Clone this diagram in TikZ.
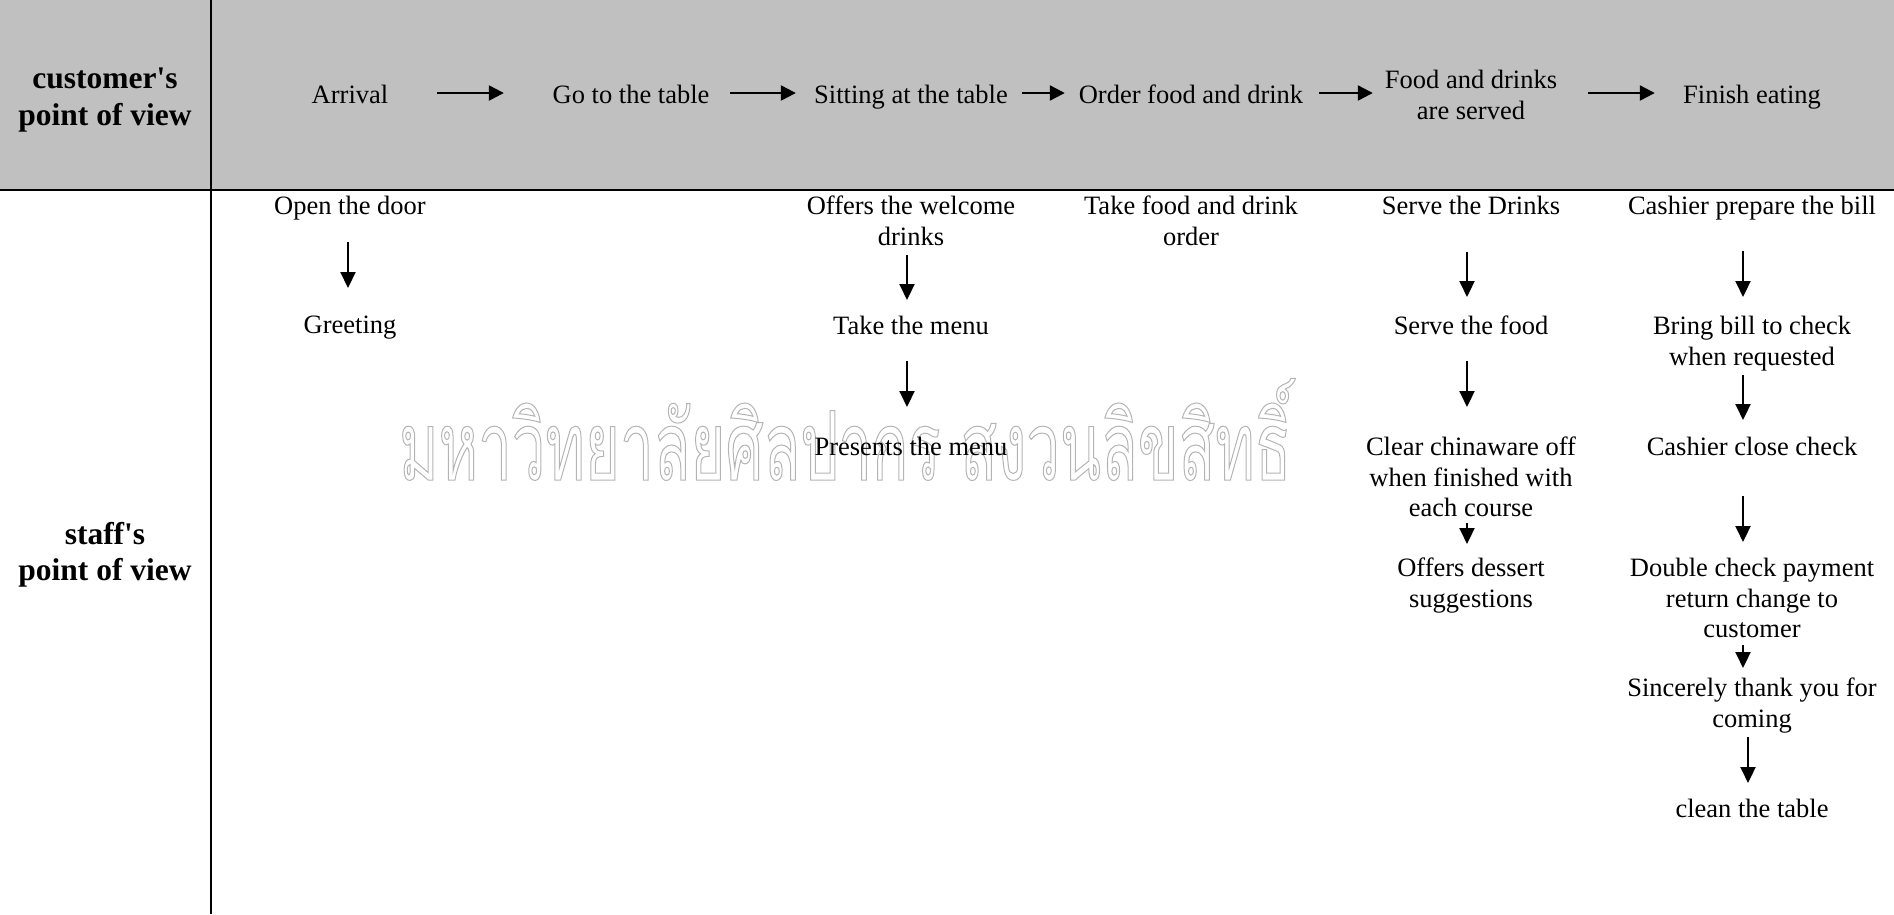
\documentclass[tikz,border=0pt]{standalone}
\usepackage{fontspec}
\usetikzlibrary{arrows.meta}
\newfontfamily\tnr{Liberation Serif}
\newfontfamily\thaiwm[Script=Thai,FakeStretch=0.624]{Loma}
\definecolor{hdrgray}{RGB}{192,192,192}
\definecolor{wmgray}{RGB}{180,180,180}
\tikzset{
  txt/.style={font=\tnr\fontsize{26.5}{30.5}\selectfont, align=center, inner sep=0pt},
  one/.style={text height=0.683em, text depth=0.217em},
  hd/.style={font=\tnr\bfseries\fontsize{31.5}{36.5}\selectfont, align=center, inner sep=0pt},
  harr/.style={line width=2.3pt, -{Triangle[length=15pt,width=15pt]}},
  varr/.style={line width=2.1pt, -{Triangle[length=16pt,width=15pt]}},
  rule/.style={line width=2.5pt},
  wm/.style={inner sep=0pt, text=wmgray, font=\thaiwm\fontsize{96}{100}\selectfont}
}
\begin{document}
\begin{tikzpicture}[x=1pt,y=-1pt]
\useasboundingbox (0,0) rectangle (1894,914);
\fill[hdrgray] (0,0) rectangle (1894,190);
% watermark
\node[wm, anchor=base west] (wmark) at (399,480) {\special{pdf:literal direct 1 Tr 1 w}มหาวิทยาลัยศิลปากร สงวนลิขสิทธิ์\special{pdf:literal direct 0 Tr}};
% table rules
\coordinate (vtop) at (211,0);
\coordinate (vbot) at (211,914);
\coordinate (hl) at (0,190);
\coordinate (hr) at (1894,190);
\draw[rule] (vtop) -- (vbot);
\draw[rule] (hl) -- (hr);
% row labels
\node[hd] (cpov) at (105,100) {customer's\\point of view};
\node[hd] (spov) at (105,555) {staff's\\point of view};
% customer's point of view
\node[txt, one] (a1) at (350,101.6) {Arrival};
\node[txt, one] (a2) at (631,101.6) {Go to the table};
\node[txt, one] (a3) at (911,101.6) {Sitting at the table};
\node[txt, one] (a4) at (1191,101.6) {Order food and drink};
\node[txt] (a5) at (1471,95) {Food and drinks\\are served};
\node[txt, one] (a6) at (1752,101.6) {Finish eating};
\draw[harr, shorten <=49pt, shorten >=48.6pt] ([yshift=8.6pt]a1.east) -- ([yshift=8.6pt]a2.west);
\draw[harr, shorten <=20.6pt, shorten >=18.2pt] ([yshift=8.6pt]a2.east) -- ([yshift=8.6pt]a3.west);
\draw[harr, shorten <=14.2pt, shorten >=13.8pt] ([yshift=8.6pt]a3.east) -- ([yshift=8.6pt]a4.west);
\draw[harr, shorten <=15.8pt, shorten >=11.9pt] ([yshift=8.6pt]a4.east) -- ([yshift=2pt]a5.west);
\draw[harr, shorten <=30.9pt, shorten >=28.2pt] ([yshift=2pt]a5.east) -- ([yshift=8.6pt]a6.west);
% staff's point of view
\node[txt, anchor=north] (s11) at (350,196) {Open the door};
\node[txt, anchor=north] (s12) at (350,316) {Greeting};
\node[txt, anchor=north] (s31) at (911,196) {Offers the welcome\\drinks};
\node[txt, anchor=north] (s32) at (911,316) {Take the menu};
\node[txt, anchor=north] (s33) at (911,437) {Presents the menu};
\node[txt, anchor=north] (s41) at (1191,196) {Take food and drink\\order};
\node[txt, anchor=north] (s51) at (1471,196) {Serve the Drinks};
\node[txt, anchor=north] (s52) at (1471,316) {Serve the food};
\node[txt, anchor=north] (s53) at (1471,437) {Clear chinaware off\\when finished with\\each course};
\node[txt, anchor=north] (s54) at (1471,558) {Offers dessert\\suggestions};
\node[txt, anchor=north] (s61) at (1752,196) {Cashier prepare the bill};
\node[txt, anchor=north] (s62) at (1752,316) {Bring bill to check\\when requested};
\node[txt, anchor=north] (s63) at (1752,437) {Cashier close check};
\node[txt, anchor=north] (s64) at (1752,558) {Double check payment\\return change to\\customer};
\node[txt, anchor=north] (s65) at (1752,678) {Sincerely thank you for\\coming};
\node[txt, anchor=north] (s66) at (1752,799) {clean the table};
% vertical arrows
\draw[varr, shorten <=22pt, shorten >=28pt] ([xshift=-2pt]s11.south) -- ([xshift=-2pt]s12.north);
\draw[varr, shorten <=9pt, shorten >=16pt] ([xshift=-4pt]s31.south) -- ([xshift=-4pt]s32.north);
\draw[varr, shorten <=26pt, shorten >=30pt] ([xshift=-4pt]s32.south) -- ([xshift=-4pt]s33.north);
\draw[varr, shorten <=37pt, shorten >=19pt] ([xshift=-4pt]s51.south) -- ([xshift=-4pt]s52.north);
\draw[varr, shorten <=26pt, shorten >=30pt] ([xshift=-4pt]s52.south) -- ([xshift=-4pt]s53.north);
\draw[varr, shorten <=6pt, shorten >=14pt] ([xshift=-4pt]s53.south) -- ([xshift=-4pt]s54.north);
\draw[varr, shorten <=31pt, shorten >=19pt] ([xshift=-9pt]s61.south) -- ([xshift=-9pt]s62.north);
\draw[varr, shorten <=4pt, shorten >=17pt] ([xshift=-9pt]s62.south) -- ([xshift=-9pt]s63.north);
\draw[varr, shorten <=40pt, shorten >=16pt] ([xshift=-9pt]s63.south) -- ([xshift=-9pt]s64.north);
\draw[varr, shorten <=7pt, shorten >=10pt] ([xshift=-9pt]s64.south) -- ([xshift=-9pt]s65.north);
\draw[varr, shorten <=4pt, shorten >=16pt] ([xshift=-4pt]s65.south) -- ([xshift=-4pt]s66.north);
\end{tikzpicture}
\end{document}
